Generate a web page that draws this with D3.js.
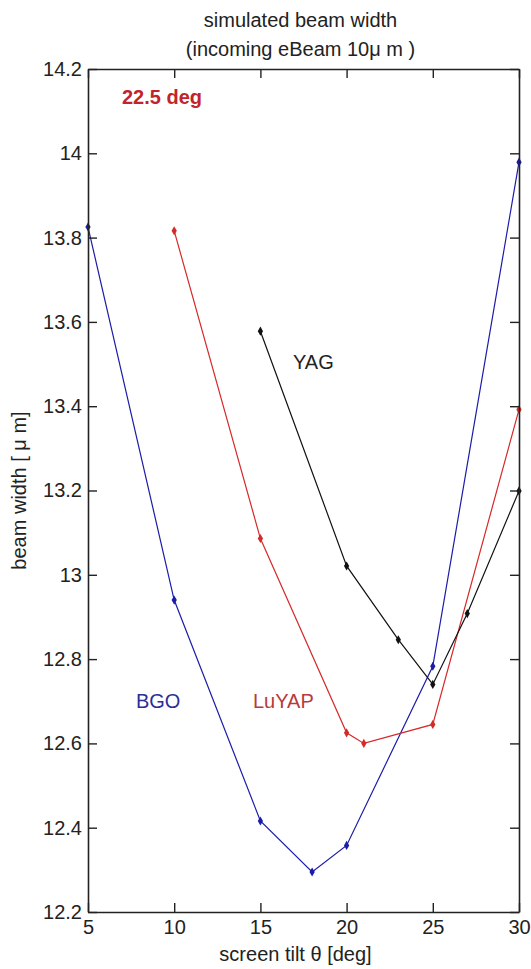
<!DOCTYPE html>
<html>
<head>
<meta charset="utf-8">
<script src="https://cdn.jsdelivr.net/npm/d3@7"></script>
<style>
  html, body { margin: 0; padding: 0; background: #fff; }
  svg { display: block; }
  text { font-family: "Liberation Sans", Arial, sans-serif; }
</style>
</head>
<body>
<svg id="chart" width="531" height="969"></svg>
<script>
// Screen tilt angles (deg) and simulated beam widths (µm) per crystal
const bgoTilt   = [5, 10, 15, 18, 20, 25, 30];
const bgoWidth  = [13.825, 12.94, 12.416, 12.295, 12.358, 12.783, 13.979];

const luyapTilt  = [10, 15, 20, 21, 25, 30];
const luyapWidth = [13.816, 13.086, 12.625, 12.600, 12.645, 13.392];

const yagTilt  = [15, 20, 23, 25, 27, 30];
const yagWidth = [13.578, 13.021, 12.846, 12.740, 12.908, 13.199];

const xTicks = [5, 10, 15, 20, 25, 30];
const yTicks = [12.2, 12.4, 12.6, 12.8, 13, 13.2, 13.4, 13.6, 13.8, 14, 14.2];

const series = [
  { name: "BGO",   tilt: bgoTilt,   width: bgoWidth,   color: "#1c1ca8", labelColor: "#2a2f95", lx: 7.78,  ly: 12.685 },
  { name: "LuYAP", tilt: luyapTilt, width: luyapWidth, color: "#d42a2a", labelColor: "#b83a3a", lx: 14.57, ly: 12.685 },
  { name: "YAG",   tilt: yagTilt,   width: yagWidth,   color: "#111111", labelColor: "#222222", lx: 16.89, ly: 13.489 }
];

const svg = d3.select("#chart");
const L = 88, R = 519, T = 69, B = 912;
const FS = 20;

const x = d3.scaleLinear().domain([5, 30]).range([L, R]);
const y = d3.scaleLinear().domain([12.2, 14.2]).range([B, T]);

// Data lines and markers
const line = d3.line().x(d => x(d[0])).y(d => y(d[1]));
series.forEach(s => {
  const pts = s.tilt.map((t, i) => [t, s.width[i]]);
  svg.append("path")
    .attr("d", line(pts))
    .attr("fill", "none")
    .attr("stroke", s.color)
    .attr("stroke-width", 1.2);
  svg.selectAll(null).data(pts).enter().append("path")
    .attr("d", d3.symbol(d3.symbolDiamond, 24))
    .attr("transform", d => `translate(${x(d[0])},${y(d[1])})`)
    .attr("fill", s.color);
  svg.append("text")
    .attr("x", x(s.lx)).attr("y", y(s.ly))
    .attr("font-size", FS)
    .attr("fill", s.labelColor)
    .text(s.name);
});

// Axes: box with inward ticks on all four sides
const tickLen = 9;
const axisColor = "#222";
const axBottom = d3.axisBottom(x).tickValues(xTicks).tickSize(-tickLen).tickSizeOuter(0).tickPadding(8).tickFormat(d3.format("d"));
const axTop = d3.axisTop(x).tickValues(xTicks).tickSize(-tickLen).tickSizeOuter(0).tickFormat("");
const axLeft = d3.axisLeft(y).tickValues(yTicks).tickSize(-tickLen).tickSizeOuter(0).tickPadding(6).tickFormat(d => +d.toFixed(1) + "");
const axRight = d3.axisRight(y).tickValues(yTicks).tickSize(-tickLen).tickSizeOuter(0).tickFormat("");

function styleAxis(g) {
  g.select(".domain").attr("stroke", axisColor).attr("stroke-width", 1.6);
  g.selectAll(".tick line").attr("stroke", axisColor).attr("stroke-width", 1.4);
  g.selectAll(".tick text").attr("fill", "#222").attr("font-size", FS)
    .attr("font-family", "'Liberation Sans', Arial, sans-serif");
}

svg.append("g").attr("transform", `translate(0,${B})`).call(axBottom).call(styleAxis);
svg.append("g").attr("transform", `translate(0,${T})`).call(axTop).call(styleAxis);
svg.append("g").attr("transform", `translate(${L},0)`).call(axLeft).call(styleAxis);
svg.append("g").attr("transform", `translate(${R},0)`).call(axRight).call(styleAxis);

// Titles and axis labels
const midX = (L + R) / 2;
svg.append("text").attr("x", midX - 3).attr("y", 27).attr("text-anchor", "middle")
  .attr("font-size", FS).attr("fill", "#222").text("simulated beam width");
svg.append("text").attr("x", midX - 3).attr("y", 56).attr("text-anchor", "middle")
  .attr("font-size", FS).attr("fill", "#222").text("(incoming eBeam 10\u03bc m )");

svg.append("text").attr("x", midX - 8).attr("y", 961).attr("text-anchor", "middle")
  .attr("font-size", FS).attr("fill", "#222").text("screen tilt \u03b8 [deg]");

svg.append("text")
  .attr("transform", `translate(26,${(T + B) / 2}) rotate(-90)`)
  .attr("text-anchor", "middle")
  .attr("font-size", FS).attr("fill", "#222").text("beam width [ \u03bc m]");

svg.append("text").attr("x", 122).attr("y", 104)
  .attr("font-size", FS).attr("font-weight", "bold").attr("fill", "#c3232b").text("22.5 deg");
</script>
</body>
</html>
